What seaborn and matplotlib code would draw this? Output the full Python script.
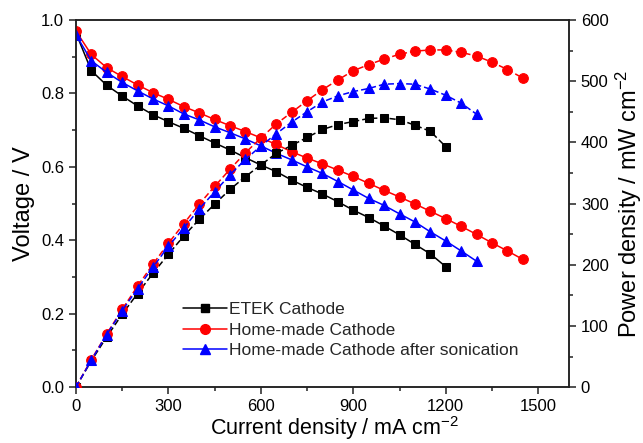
import numpy as np
import pandas as pd
import matplotlib
matplotlib.use("Agg")
import matplotlib.pyplot as plt
from matplotlib.ticker import MultipleLocator
from matplotlib.lines import Line2D
import seaborn as sns

# ---- data ----
current_etek = list(range(0, 1201, 50))
current_home = list(range(0, 1451, 50))
current_soni = list(range(0, 1301, 50))

voltage_etek = [0.965, 0.862, 0.822, 0.793, 0.766, 0.742, 0.723, 0.705, 0.685, 0.665,
                0.646, 0.625, 0.605, 0.587, 0.564, 0.544, 0.526, 0.505, 0.482, 0.462,
                0.439, 0.415, 0.389, 0.363, 0.328]
voltage_home = [0.970, 0.906, 0.870, 0.846, 0.823, 0.802, 0.784, 0.764, 0.747, 0.729,
                0.712, 0.696, 0.679, 0.661, 0.641, 0.624, 0.608, 0.591, 0.574, 0.555,
                0.536, 0.518, 0.499, 0.479, 0.459, 0.438, 0.416, 0.393, 0.371, 0.348]
voltage_soni = [0.960, 0.889, 0.857, 0.830, 0.807, 0.785, 0.766, 0.744, 0.728, 0.709,
                0.693, 0.676, 0.657, 0.637, 0.619, 0.600, 0.582, 0.560, 0.537, 0.514,
                0.495, 0.472, 0.450, 0.423, 0.398, 0.371, 0.343]

power_etek = [0, 43, 82, 119, 153, 186, 217, 247, 274, 299,
              323, 344, 363, 382, 395, 408, 421, 429, 434, 439,
              440, 437, 428, 418, 393]
power_home = [0, 45, 87, 127, 165, 201, 235, 267, 299, 328,
              356, 383, 407, 430, 449, 468, 486, 502, 517, 527,
              536, 544, 549, 551, 551, 547, 541, 531, 519, 505]
power_soni = [0, 44, 86, 125, 161, 196, 230, 260, 291, 319,
              347, 372, 394, 414, 433, 450, 466, 476, 483, 488,
              495, 496, 495, 487, 477, 464, 446]

labels = ["ETEK Cathode", "Home-made Cathode", "Home-made Cathode after sonication"]
colors = ["#000000", "#ff0000", "#0000ff"]
markers = ["s", "o", "^"]
msizes = [6, 7, 7.5]

sns.set_theme(style="ticks")
plt.rcParams["font.family"] = ["Liberation Sans", "DejaVu Sans"]
plt.rcParams["mathtext.fontset"] = "custom"
plt.rcParams["mathtext.rm"] = "Liberation Sans"
plt.rcParams["mathtext.it"] = "Liberation Sans:italic"

fig = plt.figure(figsize=(6.43, 4.43), dpi=100)
ax = fig.add_axes([0.118, 0.126, 0.767, 0.829])
ax2 = ax.twinx()

series = [
    (current_etek, voltage_etek, power_etek),
    (current_home, voltage_home, power_home),
    (current_soni, voltage_soni, power_soni),
]

for (cur, vol, pw), lab, c, m, ms in zip(series, labels, colors, markers, msizes):
    dv = pd.DataFrame({"I": cur, "V": vol})
    dp = pd.DataFrame({"I": cur, "P": pw})
    sns.lineplot(data=dv, x="I", y="V", ax=ax, color=c, marker=m, markersize=ms,
                 markeredgecolor=c, linewidth=1.1, legend=False, zorder=3)
    sns.lineplot(data=dp, x="I", y="P", ax=ax2, color=c, marker=m, markersize=ms,
                 markeredgecolor=c, linewidth=1.1, linestyle=(0, (4, 2)),
                 legend=False, zorder=3)

ax.set_xlim(0, 1600)
ax.set_ylim(0, 1.0)
ax2.set_ylim(0, 600)

ax.xaxis.set_major_locator(MultipleLocator(300))
ax.xaxis.set_minor_locator(MultipleLocator(150))
ax.yaxis.set_major_locator(MultipleLocator(0.2))
ax.yaxis.set_minor_locator(MultipleLocator(0.1))
ax2.yaxis.set_major_locator(MultipleLocator(100))
ax2.yaxis.set_minor_locator(MultipleLocator(50))
ax.yaxis.set_major_formatter(matplotlib.ticker.FormatStrFormatter("%.1f"))

for a in (ax, ax2):
    for s in a.spines.values():
        s.set_linewidth(1.1)
        s.set_color("#222222")
        s.set_visible(True)
    a.tick_params(which="major", direction="out", length=5, width=1.1,
                  labelsize=12, colors="#222222")
    a.tick_params(which="minor", direction="out", length=3, width=1.1,
                  colors="#222222")
ax.tick_params(axis="x", labelcolor="black")
ax.tick_params(axis="y", labelcolor="black", right=False)
ax2.tick_params(axis="y", labelcolor="black")

ax.set_xlabel("Current density / mA cm$^{-2}$", fontsize=15.5, labelpad=0, color="black")
ax.xaxis.set_label_coords(0.525, -0.073)
ax.set_ylabel("Voltage / V", fontsize=17, labelpad=4, color="black")
ax2.set_ylabel("Power density / mW cm$^{-2}$", fontsize=17, labelpad=4, color="black")

handles = [Line2D([0], [0], color=c, marker=m, markersize=ms, markeredgecolor=c,
                  linewidth=1.1) for c, m, ms in zip(colors, markers, msizes)]
ax.legend(handles, labels, loc="lower left", bbox_to_anchor=(0.204, 0.06),
          frameon=False, fontsize=12.5, handlelength=2.5, handletextpad=0.1,
          labelspacing=0.3, borderaxespad=0)

fig.savefig("out.png", dpi=100)
